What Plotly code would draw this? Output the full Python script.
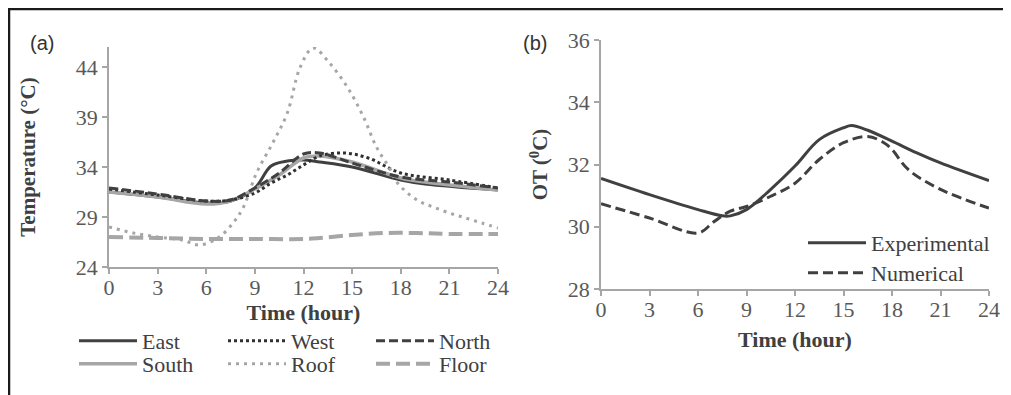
import plotly.graph_objects as go

# ---------------- data: panel (a) ----------------
east_h = [0, 3, 6, 7.5, 9, 10, 11, 12, 13, 15, 18, 19.5, 24]
east_t = [31.5, 31.0, 30.4, 30.6, 31.9, 34.1, 34.6, 34.7, 34.5, 34.0, 32.7, 32.3, 31.7]

west_h = [0, 3, 6, 7.5, 9, 10, 11, 12, 13, 14.5, 16, 18, 21, 24]
west_t = [31.8, 31.2, 30.6, 30.7, 31.4, 32.4, 33.2, 34.2, 35.1, 35.4, 34.9, 33.4, 32.7, 31.9]

north_h = [0, 3, 6, 7.5, 9, 10.5, 12, 13, 15, 18, 21, 24]
north_t = [31.9, 31.3, 30.6, 30.7, 31.9, 33.4, 35.3, 35.4, 34.4, 33.0, 32.5, 31.9]

south_h = [0, 3, 6, 7.5, 9, 10.5, 12, 13, 15, 18, 19.5, 24]
south_t = [31.5, 31.0, 30.3, 30.6, 31.8, 33.2, 34.9, 35.1, 34.5, 32.9, 32.5, 31.7]

roof_h = [0, 1.5, 3, 4.5, 5.6, 6.8, 7.7, 8.3, 9.1, 10.1, 11, 11.8, 12.6, 13.6,
          14.7, 15.7, 16.5, 17.3, 17.8, 19, 20, 21, 22, 23, 24]
roof_t = [28.0, 27.4, 27.0, 26.7, 26.2, 27.0, 28.5, 30.0, 33.4, 36.4, 39.4, 44.0, 45.9, 44.4,
          42.0, 39.0, 36.0, 33.9, 32.4, 30.7, 30.0, 29.4, 28.9, 28.4, 27.9]

floor_h = [0, 3, 6, 9, 12, 13, 15, 17, 19, 21, 24]
floor_t = [27.0, 26.9, 26.8, 26.8, 26.8, 26.9, 27.2, 27.4, 27.4, 27.3, 27.3]

# ---------------- data: panel (b) ----------------
exp_h = [0, 3, 6, 7.5, 8, 9, 10.5, 12, 13.5, 15, 15.5, 16.5, 18, 19.5, 21, 24]
exp_t = [31.55, 31.03, 30.55, 30.35, 30.35, 30.55, 31.2, 31.95, 32.8, 33.18, 33.25, 33.1,
         32.75, 32.38, 32.05, 31.48]

num_h = [0, 3, 6, 7, 8, 9, 10.5, 12, 13.5, 15, 16.5, 17.5, 18, 19, 21, 24]
num_t = [30.74, 30.28, 29.8, 30.17, 30.5, 30.65, 30.98, 31.4, 32.16, 32.7, 32.9, 32.7,
         32.48, 31.84, 31.2, 30.6]

x_ticks = [0, 3, 6, 9, 12, 15, 18, 21, 24]
ya_ticks = [24, 29, 34, 39, 44]
yb_ticks = [28, 30, 32, 34, 36]

DARK = "#404040"
LIGHT = "#a6a6a6"
SERIF = "Liberation Serif"

# page is 1011x395; the html body adds an 8px margin, so the figure is 8px smaller
W, H = 1011, 395
OX, OY = 8, 8
FW, FH = W - OX, H - OY


def px(x):
    return (x - OX) / FW


def py(y):
    return (FH - (y - OY)) / FH


fig = go.Figure()


def add(x, y, name, color, width, dash, xa, ya, legend):
    fig.add_trace(go.Scatter(
        x=x, y=y, name=name, mode="lines",
        line=dict(color=color, width=width, dash=dash, shape="spline", smoothing=1.0),
        xaxis=xa, yaxis=ya, legend=legend, hoverinfo="skip"))


add(east_h, east_t, "East", DARK, 3, "solid", "x", "y", "legend")
add(south_h, south_t, "South", LIGHT, 3.5, "solid", "x", "y", "legend2")
add(west_h, west_t, "West", "#303030", 3, "3px,3px", "x", "y", "legend3")
add(roof_h, roof_t, "Roof", LIGHT, 3, "3px,5px", "x", "y", "legend4")
add(north_h, north_t, "North", DARK, 3, "9px,4px", "x", "y", "legend5")
add(floor_h, floor_t, "Floor", LIGHT, 4, "14px,6px", "x", "y", "legend6")

add(exp_h, exp_t, "Experimental", DARK, 3, "solid", "x2", "y2", "legend7")
add(num_h, num_t, "Numerical", DARK, 3, "10px,5px", "x2", "y2", "legend8")

axis_common = dict(
    showgrid=False, zeroline=False, showline=True, linecolor="#a6a6a6", linewidth=1.5,
    ticks="outside", ticklen=5, tickcolor="#a6a6a6", tickwidth=1.5, automargin=False,
    tickfont=dict(family=SERIF, size=22, color="#595959"),
)
xtitle_font = dict(family=SERIF, size=22, color="#404040", weight="bold")
ytitle_font = dict(family=SERIF, size=21, color="#404040", weight="bold")

fig.update_layout(
    template="none",
    width=FW, height=FH, autosize=False,
    margin=dict(l=0, r=0, t=0, b=0, pad=0, autoexpand=False),
    paper_bgcolor="white", plot_bgcolor="white",
    font=dict(family=SERIF, color="#404040"),
    xaxis=dict(**axis_common, domain=[px(109), px(498)], range=[0, 24],
               tickvals=x_ticks, anchor="y", ticklabelstandoff=-5,
               title=dict(text="Time (hour)", font=xtitle_font, standoff=0)),
    yaxis=dict(**axis_common, domain=[py(267), py(47)], range=[24, 46],
               tickvals=ya_ticks, anchor="x",
               title=dict(text="Temperature (°C)", font=ytitle_font, standoff=34)),
    xaxis2=dict(**axis_common, domain=[px(601), px(989)], range=[0, 24],
                tickvals=x_ticks, anchor="y2", ticklabelstandoff=-5,
                title=dict(text="Time (hour)", font=xtitle_font, standoff=10)),
    yaxis2=dict(**axis_common, domain=[py(289), py(40)], range=[28, 36],
                tickvals=yb_ticks, anchor="x2",
                title=dict(text="OT (<sup>0</sup>C)", font=ytitle_font, standoff=14)),
    showlegend=True,
)

leg_common = dict(orientation="v", bgcolor="rgba(0,0,0,0)", borderwidth=0,
                  font=dict(family=SERIF, size=22, color="#404040"),
                  xanchor="left", yanchor="middle", itemwidth=58, itemclick=False)
# (text-left x, text-centre y) in page pixels for each legend entry
leg_pos = {
    "legend": (142, 341), "legend2": (142, 364),
    "legend3": (291, 341), "legend4": (291, 364),
    "legend5": (439, 341), "legend6": (439, 364),
    "legend7": (871, 243), "legend8": (871, 273),
}
fig.update_layout(**{k: dict(**leg_common, x=px(tx - 68), y=py(ty))
                     for k, (tx, ty) in leg_pos.items()})

# panel labels
fig.add_annotation(text="(a)", x=px(42), y=py(43), xref="paper", yref="paper",
                   xanchor="center", yanchor="middle", showarrow=False,
                   font=dict(family="Liberation Sans", size=20, color="#333333"))
fig.add_annotation(text="(b)", x=px(535), y=py(43), xref="paper", yref="paper",
                   xanchor="center", yanchor="middle", showarrow=False,
                   font=dict(family="Liberation Sans", size=20, color="#333333"))

# outer frame (top and left edges)
fig.add_shape(type="line", xref="paper", yref="paper", x0=px(8), x1=1, y0=py(9), y1=py(9),
              line=dict(color="#1a1a1a", width=2.5))
fig.add_shape(type="line", xref="paper", yref="paper", x0=px(9), x1=px(9), y0=0, y1=py(9),
              line=dict(color="#1a1a1a", width=2.5))

fig.write_html("out.html")
